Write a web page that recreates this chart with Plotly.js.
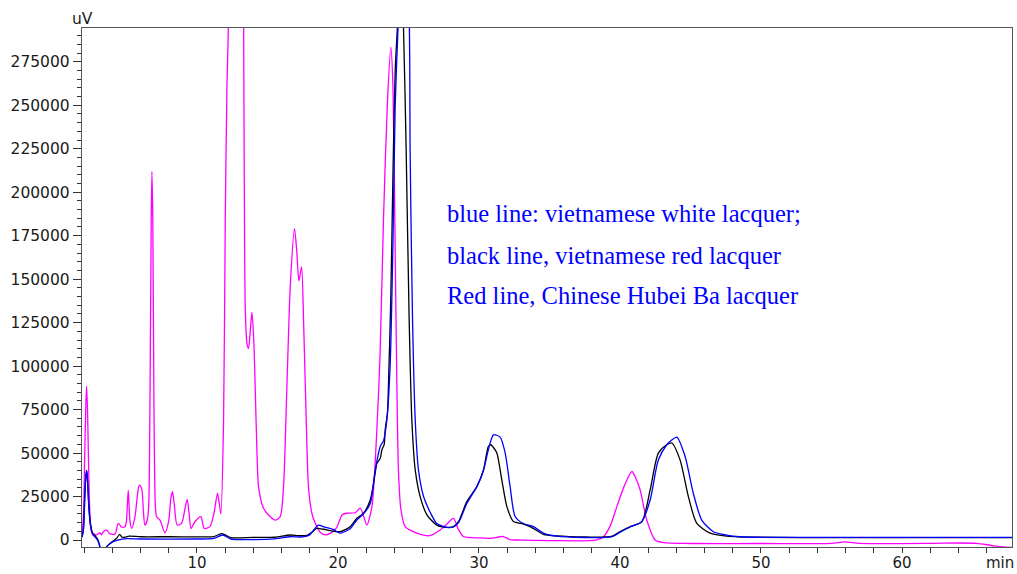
<!DOCTYPE html>
<html>
<head>
<meta charset="utf-8">
<script src="https://cdn.plot.ly/plotly-3.0.1.min.js"></script>
<style>
html,body{margin:0;padding:0;background:#fff;}
#chart{width:1017px;height:574px;}
</style>
</head>
<body>
<div id="chart"></div>
<script>
// Red line: Chinese Hubei Ba lacquer (magenta)
const hubeiTime = [1.85,1.95,2.05,2.13,2.18,2.25,2.35,2.45,2.53,2.7,2.9,3.12,3.24,3.36,3.6,3.83,4.19,4.42,4.66,4.9,5.0,5.13,5.25,5.37,5.6,5.8,5.91,6.08,6.2,6.31,6.48,6.58,6.68,6.76,6.81,6.87,6.95,7.05,7.14,7.38,7.73,8.0,8.15,8.27,8.4,8.6,8.91,9.15,9.31,9.45,9.58,9.86,10.28,10.52,10.92,11.2,11.46,11.6,11.7,11.89,12.01,12.13,12.24,12.4,12.6,12.8,13.0,13.2,13.31,13.36,13.43,13.55,13.66,13.78,13.9,14.03,14.13,14.26,14.37,14.72,15.2,15.55,15.9,16.14,16.38,16.62,16.92,17.09,17.23,17.42,17.56,17.75,17.91,18.15,18.39,18.74,19.1,19.45,19.9,20.3,20.6,21.22,21.58,21.81,22.05,22.41,22.76,22.99,23.23,23.51,23.75,23.9,24.06,24.18,24.29,24.46,24.77,25.6,26.5,27.25,27.7,28.19,28.55,28.9,30.0,30.79,31.5,31.74,32.21,33.0,35.0,38.3,38.83,39.3,39.78,40.3,40.84,41.1,41.43,41.9,42.49,43.08,45,50,55,55.96,57,62,64,65.3,66.5,67.8];
const hubeiSignal = [4000,14000,52000,80000,88400,72000,30000,9000,4800,3500,3000,4200,3000,4800,5700,3500,3500,9600,7500,7700,11000,28700,11000,6700,13000,27000,31600,29700,17000,8600,11500,20000,90000,185000,212000,185000,80000,20000,13400,11500,4200,11000,24000,27800,20000,8600,9600,18000,23400,15000,6700,10500,13400,6700,7700,15000,27000,20000,15000,69000,184000,261000,300000,520000,750000,820000,700000,450000,300000,203600,132600,113000,110000,120000,131000,115000,88400,50000,30700,18300,13400,11500,13400,30700,88400,146000,179000,165000,149000,157000,126800,69200,30700,15400,9600,4500,3000,3800,7000,14500,15400,15700,18300,14000,8600,19200,63400,107700,184400,251700,283400,261300,165200,88400,40300,18000,7700,4000,2500,5800,9000,12500,6000,2000,1200,1000,1900,2000,300,0,-300,0,1900,8000,19200,31000,39400,36000,28800,11500,0,-1500,-2000,-2000,-1900,-1100,-1900,-1900,-1700,-1900,-3300,-4300];

// black line: vietnamese red lacquer
const redTime = [1.85,1.95,2.05,2.13,2.19,2.25,2.35,2.45,2.6,2.8,2.95,3.1,3.25,3.35,3.45,3.57,3.86,4.3,4.52,4.7,5.2,6.0,8.0,10.0,11.2,11.75,12.0,12.4,14.0,15.5,16.6,17.2,17.8,18.2,18.5,19.0,19.45,20.16,20.87,21.34,21.81,22.29,22.64,22.76,23.0,23.12,23.28,23.35,23.51,23.58,23.75,23.9,24.06,24.25,24.45,24.65,24.84,25.05,25.24,25.48,25.83,26.31,27.01,27.72,28.19,28.55,29.14,29.85,30.32,30.67,30.84,31.0,31.27,31.62,31.98,32.45,33.15,33.63,34.57,35.5,39.4,40.01,40.72,41.55,42.14,42.72,43.32,43.67,44.26,44.85,45.45,46.39,47.57,50,55,67.8];
const redSignal = [1900,6000,25000,37000,39300,33000,18000,9600,3800,2200,500,-3000,-10000,-14000,-9000,-4000,-1900,1000,3300,1600,2200,1900,1900,1800,2000,3700,3000,1400,1500,1600,2900,2500,2700,4800,6700,6200,5400,4800,7700,12500,15400,23000,38400,44000,47000,51900,55000,63400,73000,88400,140000,210000,270000,300000,335000,294000,222900,126800,69200,40300,25000,14500,8600,7300,7700,10600,22100,30700,40300,53800,54800,53500,50000,34600,19200,10600,9200,7700,3300,2400,2100,4800,7700,10600,28800,50000,54800,55800,46100,25000,9600,4000,2300,1600,1400,1400];

// blue line: vietnamese white lacquer
const whiteTime = [1.85,1.95,2.05,2.13,2.19,2.25,2.35,2.45,2.6,2.8,2.95,3.1,3.3,3.45,3.6,4.05,4.8,6.0,10.0,11.2,11.8,12.1,12.4,15.5,16.6,17.5,18.0,18.6,19.0,19.67,20.16,20.87,21.34,21.81,22.29,22.64,23.0,23.23,23.47,23.7,23.9,24.06,24.29,24.65,25.05,25.12,25.29,25.48,25.71,26.07,26.54,27.01,27.72,28.19,28.55,29.14,29.85,30.32,30.67,31.03,31.5,31.86,32.21,32.57,33.15,33.86,34.57,35.5,39.4,40.01,40.72,41.55,42.14,42.72,43.32,43.67,44.03,44.62,45.2,45.8,46.62,47.57,48.5,51,67.8];
const whiteSignal = [1500,6000,26000,38000,40000,33000,17000,8500,3300,1500,0,-3500,-12000,-10000,-4000,-1000,700,600,600,900,2900,2000,600,700,1900,1800,3000,8600,7600,6100,4000,6500,11500,15000,21000,40000,53800,57000,69200,100000,170000,250000,300000,360000,300000,222900,126800,69200,40300,25000,16000,9500,7300,7500,10000,21000,30700,40000,52000,60500,59200,50000,30700,13400,9500,7700,4000,2300,1800,4500,7500,10600,23000,46000,54800,57500,59200,48000,26900,11500,4800,2800,1900,1500,1500];

// axis ticks and labels
const xTickValues = [10,20,30,40,50,60];
const yTickValues = [0,25000,50000,75000,100000,125000,150000,175000,200000,225000,250000,275000];
const legendLines = ["blue line: vietnamese white lacquer;","black line, vietnamese red lacquer","Red line, Chinese Hubei Ba lacquer"];
const yUnit = "uV";
const xUnit = "min";

const lineStyle = {shape:'spline', smoothing:0.7, width:1.3};
const traces = [
  {x:hubeiTime, y:hubeiSignal, mode:'lines', line:Object.assign({color:'#ff00ff'}, lineStyle), hoverinfo:'skip'},
  {x:redTime, y:redSignal, mode:'lines', line:Object.assign({color:'#000000'}, lineStyle), hoverinfo:'skip'},
  {x:whiteTime, y:whiteSignal, mode:'lines', line:Object.assign({color:'#0000ff'}, lineStyle), hoverinfo:'skip'}
];

const tickFont = {family:'DejaVu Sans, Arial, sans-serif', size:15.5, color:'#1a1a1a'};
const xTickFont = {family:'DejaVu Sans, Arial, sans-serif', size:15, color:'#1a1a1a'};
const legendYs = [0.6435, 0.5626, 0.4855];
const annotations = legendLines.map((t,i)=>({
  text:t, xref:'paper', yref:'paper', x:0.3905, y:legendYs[i], xanchor:'left', yanchor:'middle',
  showarrow:false, font:{family:'Liberation Serif, Times New Roman, serif', size:24.5, color:'#0000ff'}
}));
annotations.push({text:yUnit, xref:'paper', yref:'paper', x:0.001, y:1, xanchor:'center', yanchor:'bottom', showarrow:false, font:tickFont, yshift:-2});
annotations.push({text:xUnit, xref:'paper', yref:'paper', x:0.9866, y:0, xanchor:'center', yanchor:'middle', showarrow:false, font:xTickFont, yshift:-16});

const layout = {
  width:1017, height:574,
  margin:{l:82, r:5, t:28, b:27},
  paper_bgcolor:'#ffffff', plot_bgcolor:'#ffffff',
  showlegend:false,
  xaxis:{
    range:[1.85,67.8], tickmode:'array', tickvals:xTickValues, ticktext:xTickValues.map(String),
    ticks:'outside', ticklen:5, tickwidth:1, tickcolor:'#333', ticklabelstandoff:-3,
    minor:{tickmode:'linear', tick0:0, dtick:2, ticks:'outside', ticklen:5, tickcolor:'#333', showgrid:false},
    showline:true, linecolor:'#555', linewidth:1.2, mirror:true,
    showgrid:false, zeroline:false, tickfont:xTickFont
  },
  yaxis:{
    range:[-4000,294400], tickmode:'array', tickvals:yTickValues, ticktext:yTickValues.map(String),
    ticks:'outside', ticklen:8, tickwidth:1, tickcolor:'#333',
    minor:{tickmode:'linear', tick0:0, dtick:5000, ticks:'outside', ticklen:4, tickcolor:'#333', showgrid:false},
    showline:true, linecolor:'#555', linewidth:1.2, mirror:true,
    showgrid:false, zeroline:false, tickfont:tickFont
  },
  annotations:annotations
};

Plotly.newPlot('chart', traces, layout, {staticPlot:true, displayModeBar:false});
</script>
</body>
</html>
